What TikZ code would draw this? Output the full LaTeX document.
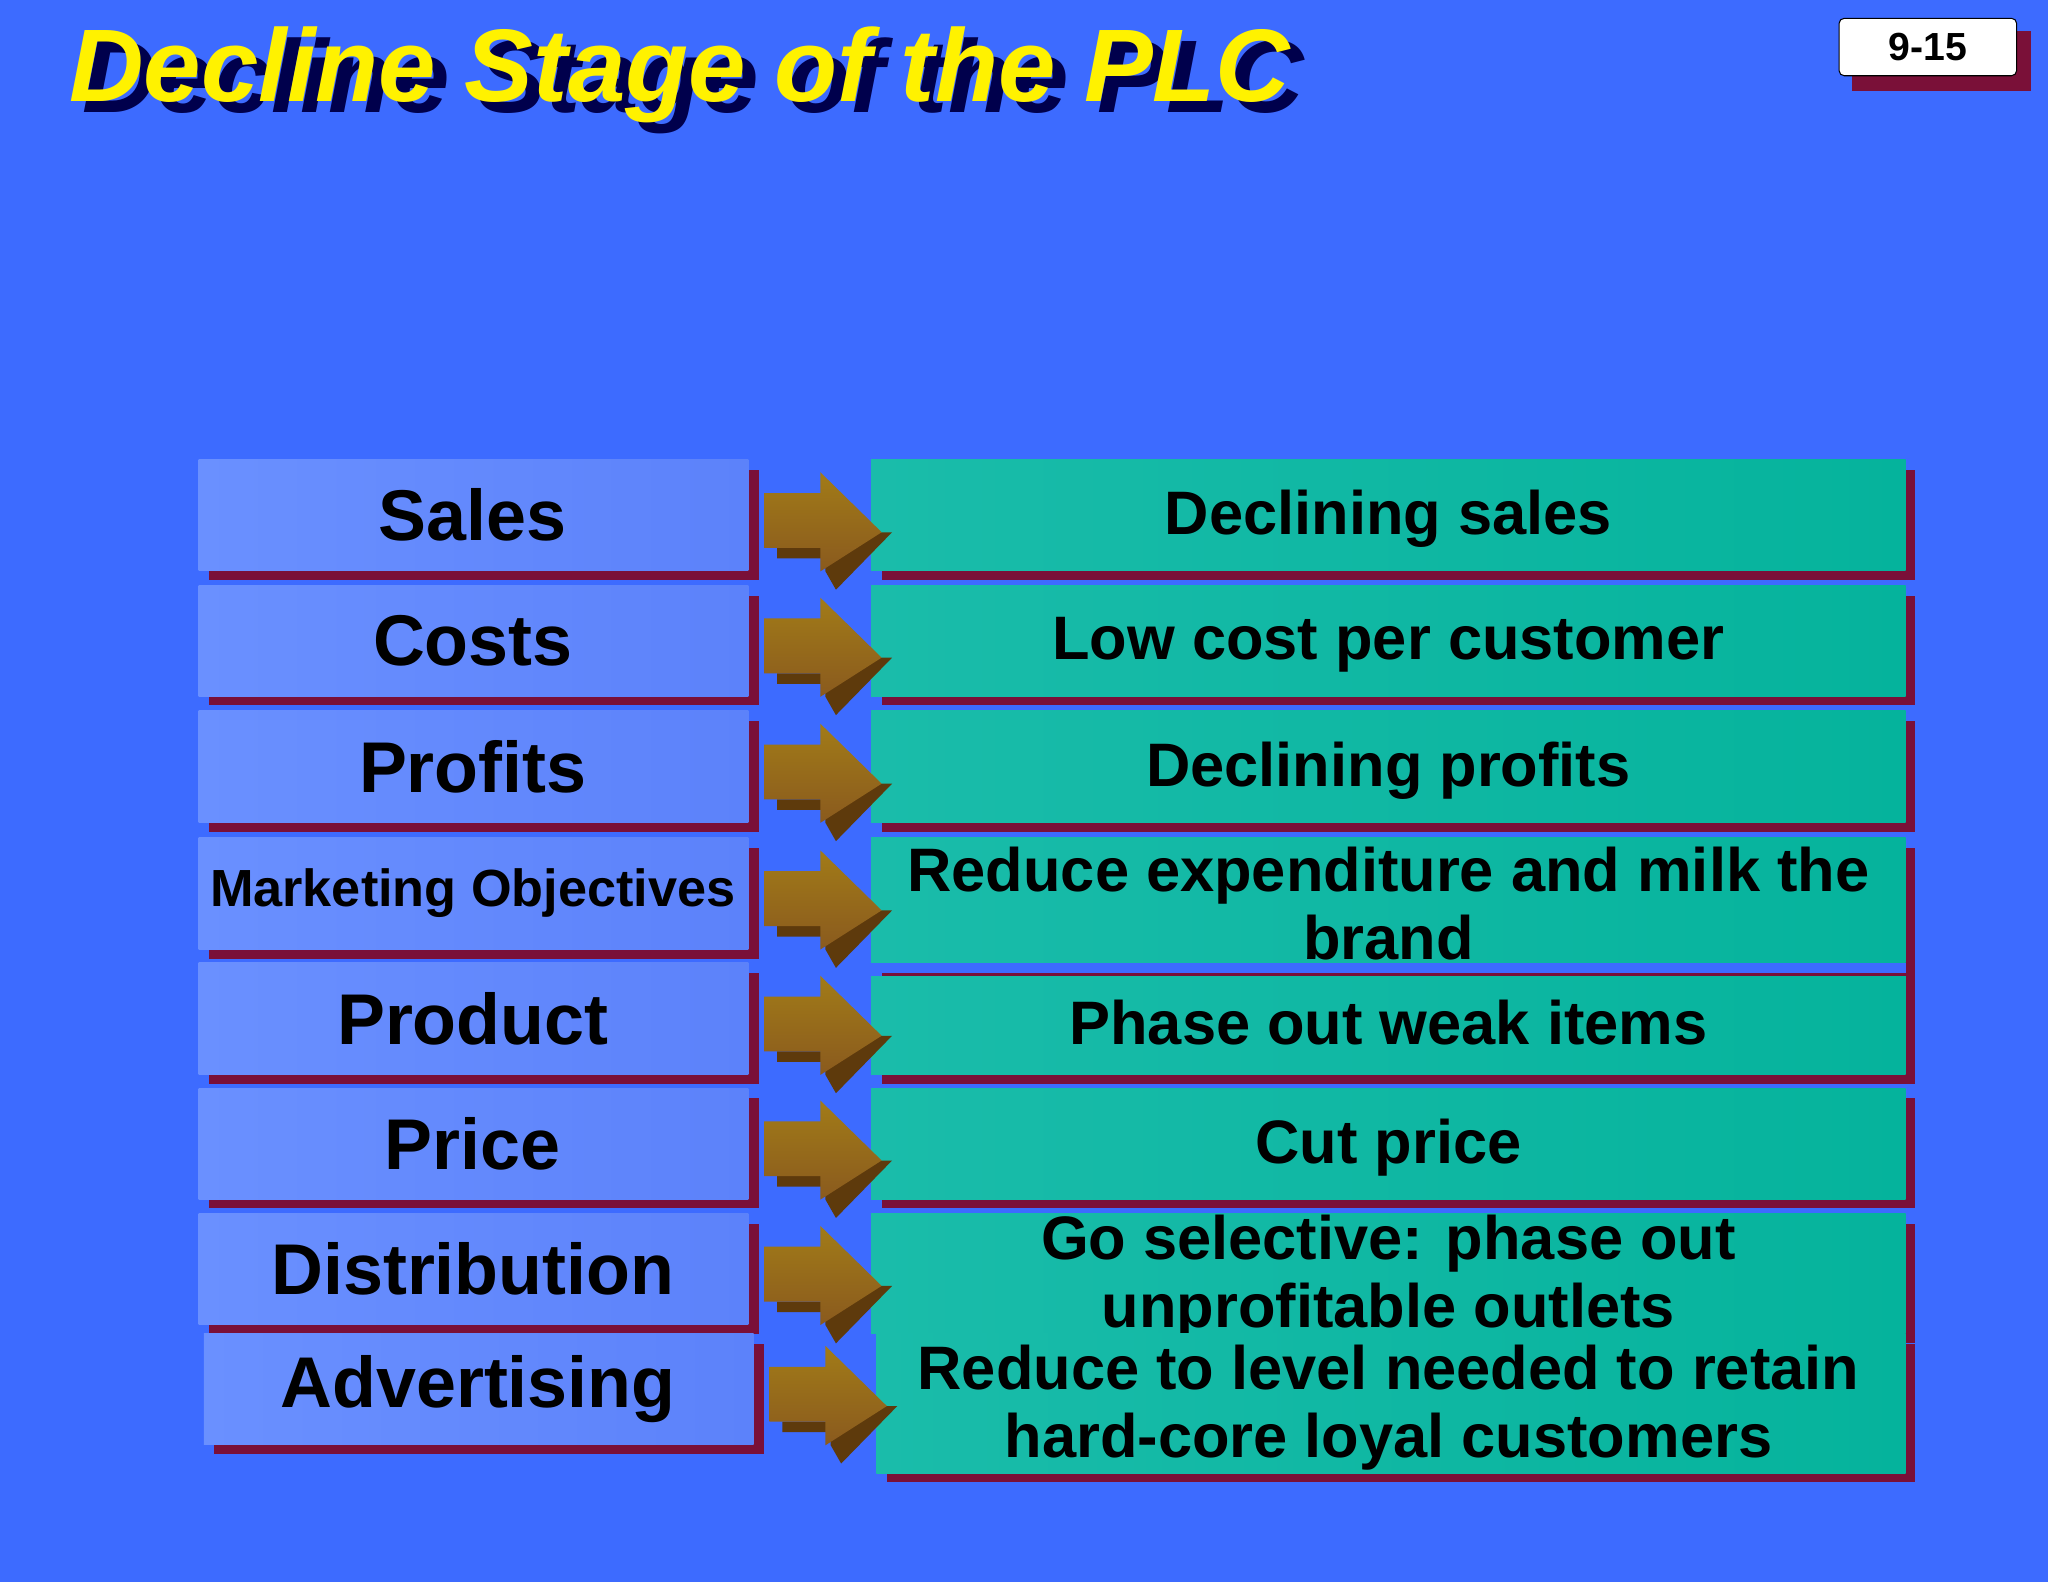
\documentclass[tikz,border=0pt]{standalone}
\usepackage{fontspec}
\setmainfont{Liberation Sans}
\begin{document}
\begin{tikzpicture}[x=0.5pt,y=-0.5pt,
  txt/.style={font=\bfseries,align=center,text=black}]
\definecolor{bg}{HTML}{3D6BFF}
\definecolor{lb1}{HTML}{6A90FF}
\definecolor{lb2}{HTML}{5C82FA}
\definecolor{tl1}{HTML}{1ABCAA}
\definecolor{tl2}{HTML}{05B39C}
\definecolor{sh}{HTML}{7A1038}
\definecolor{ar1}{HTML}{8A5A1E}
\definecolor{ar2}{HTML}{5E3A0C}
\fill[bg] (0,0) rectangle (1568,1211);
\useasboundingbox (0,0) rectangle (1568,1211);
% title
\node[anchor=west,font=\bfseries\itshape\fontsize{39.5}{42}\selectfont,text=blue!30!black] (tsh) at (56,66) {Decline Stage of the PLC};
\node[anchor=west,font=\bfseries\itshape\fontsize{39.5}{42}\selectfont,text=yellow] (title) at (46,57) {Decline Stage of the PLC};
% badge
\fill[sh] (1418,24) rectangle (1555,70);
\node[draw=black,fill=white,rounded corners=2pt,minimum width=68pt,minimum height=22pt,inner sep=0pt,font=\bfseries\fontsize{15}{16}\selectfont] (badge) at (1476,36) {9-15};
% rows
\foreach \i/\lt/\ls/\rt/\ya/\yb/\yr/\xo in {
 1/Sales/27.5/Declining sales/352/437/437/0,
 2/Costs/27.5/Low cost per customer/448/533/533/0,
 3/Profits/27.5/Declining profits/544/630/630/0,
 4/Marketing Objectives/20/{Reduce expenditure and milk the\\brand}/641/727/737/0,
 5/Product/27.5/Phase out weak items/737/823/823/0,
 6/Price/27.5/Cut price/833/918/918/0,
 7/Distribution/27.5/{Go selective: phase out\\unprofitable outlets}/929/1014/1021/0,
 8/Advertising/27.5/{Reduce to level needed to retain\\hard-core loyal customers}/1021/1106/1128/4}{
 \fill[sh] (160+\xo,\ya+8) rectangle (581+\xo,\yb+7);
 \shade[left color=lb1,right color=lb2] (152+\xo,\ya) rectangle (573+\xo,\yb);
 \node[txt,font=\bfseries\fontsize{\ls}{\ls}\selectfont] (l\i) at (362+\xo,{(\ya+\yb)/2}) {\lt};
 \fill[sh] (675+\xo,\ya+8) rectangle (1466,\yr+7);
 \shade[left color=tl1,right color=tl2] (667+\xo,\ya) rectangle (1459,\yr);
 \node[txt,font=\bfseries\fontsize{23.5}{26}\selectfont] (r\i) at (1063,{(\ya+\yr)/2+3}) {\rt};
 \begin{scope}[shift={(\xo,{(\ya+\yb)/2-395})}]
  \fill[ar2] (595,428) -- (632,428) -- (632,438) -- (640,452) -- (683,408) -- (675,408) -- (632,420) -- (595,420) -- cycle;
  \shade[top color=ar1!80!yellow,bottom color=ar1] (585,378) -- (628,378) -- (628,362) -- (675,408) -- (628,438) -- (628,420) -- (585,420) -- cycle;
 \end{scope}
}
% gap above product right box
\fill[bg] (667,737) rectangle (1466,747);
\fill[sh] (675,745) rectangle (1466,747);
\fill[sh] (1459,737) rectangle (1466,747);
\end{tikzpicture}
\end{document}
